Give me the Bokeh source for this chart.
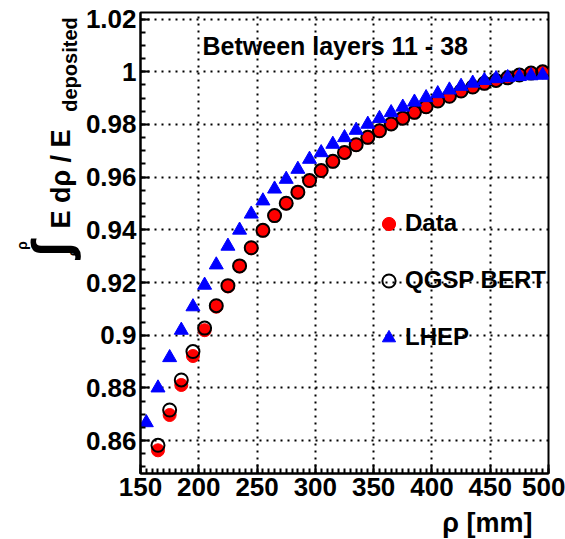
import numpy as np
from bokeh.plotting import figure
from bokeh.layouts import row, column
from bokeh.models import Range1d, FixedTicker, Label, Legend, LegendItem
from bokeh.core.properties import value
from bokeh.embed import file_html
from bokeh.resources import INLINE

# ---- data ----
rho_data = [165, 175, 185, 195, 205, 215, 225, 235, 245, 255, 265, 275, 285, 295,
            305, 315, 325, 335, 345, 355, 365, 375, 385, 395, 405, 415, 425, 435,
            445, 455, 465, 475, 485, 495]
frac_data = [0.8563, 0.8697, 0.8811, 0.8921, 0.9019, 0.9108, 0.9185, 0.9261, 0.9330,
             0.9397, 0.9453, 0.9500, 0.9542, 0.9586, 0.9624, 0.9659, 0.9693, 0.9722,
             0.9750, 0.9775, 0.9801, 0.9823, 0.9845, 0.9866, 0.9889, 0.9907, 0.9927,
             0.9942, 0.9956, 0.9967, 0.9977, 0.9988, 0.9995, 1.0000]
frac_qgsp = [0.8582, 0.8716, 0.8830, 0.8938, 0.9027, 0.9112, 0.9188, 0.9263, 0.9332,
             0.9398, 0.9454, 0.9501, 0.9543, 0.9587, 0.9625, 0.9660, 0.9694, 0.9723,
             0.9751, 0.9776, 0.9802, 0.9824, 0.9846, 0.9867, 0.9889, 0.9907, 0.9927,
             0.9942, 0.9956, 0.9967, 0.9977, 0.9988, 0.9995, 1.0000]
rho_lhep = [155, 165, 175, 185, 195, 205, 215, 225, 235, 245, 255, 265, 275, 285, 295,
            305, 315, 325, 335, 345, 355, 365, 375, 385, 395, 405, 415, 425, 435,
            445, 455, 465, 475, 485, 495]
frac_lhep = [0.8668, 0.8800, 0.8915, 0.9019, 0.9108, 0.9190, 0.9267, 0.9338, 0.9399,
             0.9460, 0.9510, 0.9555, 0.9592, 0.9630, 0.9668, 0.9693, 0.9725, 0.9750,
             0.9778, 0.9801, 0.9823, 0.9845, 0.9866, 0.9885, 0.9902, 0.9917, 0.9931,
             0.9945, 0.9957, 0.9967, 0.9974, 0.9978, 0.9982, 0.9985, 0.9987]

x_ticks = [150, 200, 250, 300, 350, 400, 450, 500]
x_tick_labels = ["150", "200", "250", "300", "350", "400", "450", "500"]
y_ticks = [0.86, 0.88, 0.90, 0.92, 0.94, 0.96, 0.98, 1.00, 1.02]
y_tick_labels = ["0.86", "0.88", "0.9", "0.92", "0.94", "0.96", "0.98", "1", "1.02"]

series_labels = ["Data", "QGSP BERT", "LHEP"]
title_text = "Between layers   11 -  38"
x_title = "ρ [mm]"
y_title_parts = ["E dρ  /  E", "deposited", "∫", "ρ", "0"]

# ---- layout geometry (page pixels) ----
W, H = 565, 539
LW = 82                     # width of the strip holding the y title
MH = 508                    # height of the main figure
FL, FR, FT, FB = 137, 548, 12, 473   # frame edges in page pixels

SANS = "Liberation Sans"

# ---- main figure ----
p = figure(width=W - LW, height=MH, output_backend="svg", toolbar_location=None,
           x_range=Range1d(150, 500), y_range=Range1d(0.8475, 1.0225),
           min_border_left=FL - LW, min_border_right=W - FR,
           min_border_top=FT, min_border_bottom=MH - FB)
p.background_fill_color = "white"
p.border_fill_color = "white"
p.outline_line_color = "black"
p.outline_line_width = 2

p.xaxis.ticker = FixedTicker(ticks=x_ticks, minor_ticks=list(np.arange(150, 501, 5)))
p.yaxis.ticker = FixedTicker(ticks=y_ticks,
                             minor_ticks=[round(v, 3) for v in np.arange(0.845, 1.0226, 0.005)])
p.xaxis.major_label_overrides = dict(zip(x_ticks, x_tick_labels))
p.yaxis.major_label_overrides = dict(zip(y_ticks, y_tick_labels))

for ax in (p.xaxis[0], p.yaxis[0]):
    ax.axis_line_width = 2
    ax.axis_line_color = "black"
    ax.major_tick_in = 9
    ax.major_tick_out = 0
    ax.minor_tick_in = 5
    ax.minor_tick_out = 0
    ax.major_tick_line_width = 2
    ax.minor_tick_line_width = 2
    ax.major_tick_line_color = "black"
    ax.minor_tick_line_color = "black"
    ax.major_label_text_font = SANS
    ax.major_label_text_font_style = "bold"
    ax.major_label_text_font_size = "26px"
    ax.major_label_text_color = "black"
    ax.major_label_standoff = 4

for g in (p.xgrid[0], p.ygrid[0]):
    g.grid_line_color = "black"
    g.grid_line_width = 2
    g.grid_line_dash = "2 5"

r_data = p.scatter(rho_data, frac_data, marker="circle", size=13,
                   fill_color="red", line_color="red", line_width=1)
r_qgsp = p.scatter(rho_data, frac_qgsp, marker="circle", size=13,
                   fill_color=None, line_color="black", line_width=2)
r_lhep = p.scatter(rho_lhep, frac_lhep, marker="triangle", size=14,
                   fill_color="blue", line_color="blue", line_width=1)

# legend (no box); row centres at page y 222, 279, 337
leg = Legend(items=[LegendItem(label=series_labels[0], renderers=[r_data]),
                    LegendItem(label=series_labels[1], renderers=[r_qgsp]),
                    LegendItem(label=series_labels[2], renderers=[r_lhep])],
             location=(369 - FL, FB - 353.5),
             glyph_width=33, glyph_height=33, label_height=33,
             label_standoff=0, spacing=24, padding=0, margin=0,
             background_fill_alpha=0, border_line_alpha=0,
             label_text_font=SANS, label_text_font_style="bold",
             label_text_font_size="24px", label_text_color="black")
p.add_layout(leg)

# title inside the frame (centre of capitals at page y 45)
p.add_layout(Label(x=199 - FL, y=FB - 45, x_units="screen", y_units="screen",
                   text=title_text, text_font=SANS, text_font_style="bold",
                   text_font_size="25px", text_color="black",
                   text_align="left", text_baseline="middle"))

# ---- left strip with the rotated y title ----
L = figure(width=LW, height=H, output_backend="svg", toolbar_location=None,
           x_range=Range1d(0, LW), y_range=Range1d(0, H),
           x_axis_location=None, y_axis_location=None, min_border=0,
           min_border_left=0, min_border_right=0, min_border_top=0, min_border_bottom=0)
L.outline_line_color = None
L.grid.visible = False
L.background_fill_color = "white"
L.border_fill_color = "white"


def ytext(fig, text, px, py, size, font=SANS):
    # centred text, rotated to read bottom-to-top; (px, py) = page pixel centre
    fig.text(x=[px], y=[H - py], text=[text], angle=np.pi / 2,
             text_font=value(font), text_font_style="bold",
             text_font_size=value(size), text_color="black",
             text_align="center", text_baseline="middle")


ytext(L, y_title_parts[0], 60, 171, "27px")
ytext(L, y_title_parts[1], 69, 64, "20px")
ytext(L, y_title_parts[2], 50, 249, "53px")
ytext(L, y_title_parts[3], 21, 245, "14px")
ytext(L, y_title_parts[4], 74, 252, "13px")

# ---- bottom strip with the x title ----
BH = H - MH
B = figure(width=W - LW, height=BH, output_backend="svg", toolbar_location=None,
           x_range=Range1d(LW, W), y_range=Range1d(0, BH),
           x_axis_location=None, y_axis_location=None, min_border=0,
           min_border_left=0, min_border_right=0, min_border_top=0, min_border_bottom=0)
B.outline_line_color = None
B.grid.visible = False
B.background_fill_color = "white"
B.border_fill_color = "white"
B.text(x=[546], y=[H - 522], text=[x_title], text_font=value(SANS),
       text_font_style="bold", text_font_size=value("27px"), text_color="black",
       text_align="right", text_baseline="middle")

layout = row(L, column(p, B, spacing=0), spacing=0)
open("out.html", "w").write(file_html(layout, INLINE))
